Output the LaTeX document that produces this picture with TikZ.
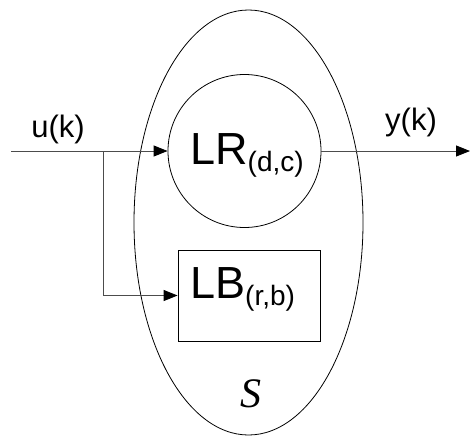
\documentclass[tikz,border=0pt]{standalone}
\usepackage{fontspec}
\setmainfont{Liberation Sans}
\newfontfamily\serifit{Liberation Serif}
\usetikzlibrary{arrows.meta,shapes.geometric}
\tikzset{
  conn/.style={draw=black!70, line width=0.9pt},
  arr/.style={conn, -{Triangle[length=14pt,width=11pt,color=black]}},
  shp/.style={draw=black, line width=0.8pt},
  lbl/.style={anchor=base west, inner sep=0pt},
}
\newcommand{\bigtxt}[2]{{\fontsize{45}{45}\selectfont #1}\raisebox{-7pt}{\fontsize{28}{28}\selectfont #2}}
\begin{document}
\begin{tikzpicture}[x=1pt,y=-1pt]
\useasboundingbox (0,0) rectangle (470,439);
\node[shp, ellipse, minimum width=229pt, minimum height=425pt, inner sep=0pt] (sys) at (248.5,222.5) {};
\node[shp, circle, minimum size=153pt, inner sep=0pt] (lr) at (244.5,151) {};
\node[shp, rectangle, minimum width=142pt, minimum height=91pt, inner sep=0pt] (lb) at (249,295.5) {};
\node[lbl] (lrt) at (190,164) {\bigtxt{LR}{(d,c)}};
\node[lbl] (lbt) at (190,298) {\bigtxt{LB}{(r,b)}};
\node[anchor=base, inner sep=0pt, font=\fontsize{31}{31}\selectfont] (ut) at (58,137) {u(k)};
\node[anchor=base, inner sep=0pt, font=\fontsize{31}{31}\selectfont] (yt) at (411,130) {y(k)};
\node[anchor=base, inner sep=0pt, font=\serifit\itshape\fontsize{42}{42}\selectfont] (st) at (251,407) {S};
\coordinate (in) at (11,151);
\coordinate (br) at (103,151);
\coordinate (out) at (470,151);
\draw[arr] (in) -- (lr.west);
\draw[arr] (br) |- (lb.west);
\draw[arr] (lr.east) -- (out);
\end{tikzpicture}
\end{document}
